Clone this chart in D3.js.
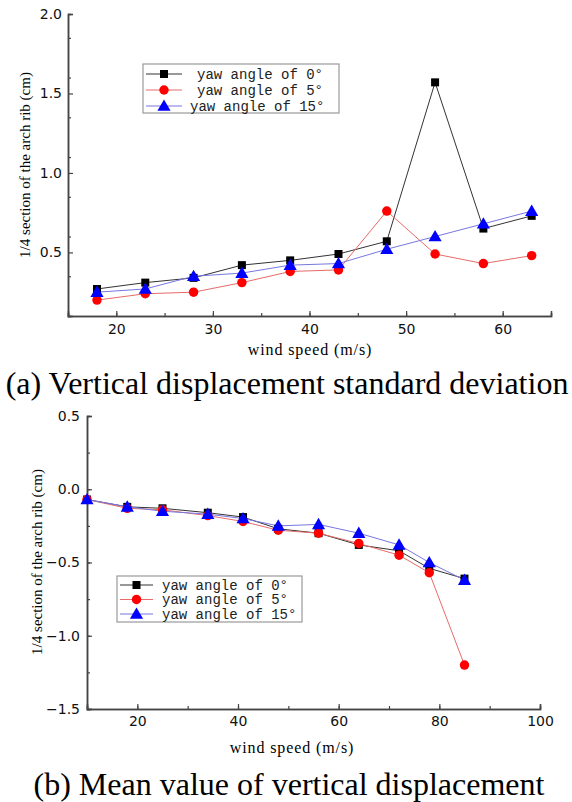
<!DOCTYPE html>
<html><head><meta charset="utf-8">
<script src="https://cdn.jsdelivr.net/npm/d3@7"></script>
<style>body{margin:0;background:#fff}</style>
</head><body>
<svg id="c" width="572" height="802"></svg>
<script>
// ---- Data: chart (a) ----
const speedA = [18,23,28,33,38,43,48,53,58,63];
const a_yaw0  = [0.27,0.31,0.34,0.42,0.45,0.49,0.57,1.57,0.65,0.73];
const a_yaw5  = [0.20,0.24,0.25,0.31,0.38,0.39,0.76,0.49,0.43,0.48];
const a_yaw15 = [0.25,0.27,0.35,0.37,0.42,0.43,0.52,0.60,0.68,0.76];
const a_xTicks = [20,30,40,50,60];
const a_yTicks = [0.5,1.0,1.5,2.0];
// ---- Data: chart (b) ----
const speedB = [10,18,25,34,41,48,56,64,72,78,85];
const b_yaw0  = [-0.07,-0.12,-0.13,-0.16,-0.19,-0.27,-0.30,-0.38,-0.42,-0.54,-0.61];
const b_yaw5  = [-0.07,-0.13,-0.14,-0.18,-0.22,-0.28,-0.30,-0.37,-0.45,-0.57,-1.20];
const b_yaw15 = [-0.07,-0.12,-0.15,-0.17,-0.20,-0.25,-0.24,-0.30,-0.38,-0.50,-0.62];
const b_xTicks = [20,40,60,80,100];
const b_yTicks = [-1.5,-1.0,-0.5,0.0,0.5];
const seriesNames = ["yaw angle of 0°","yaw angle of 5°","yaw angle of 15°"];

const svg = d3.select("#c");
const styles = [
  {line:"#333333", fill:"#000000", shape:d3.symbolSquare, size:64},
  {line:"#e86a6a", fill:"#ff0000", shape:d3.symbolCircle, size:70},
  {line:"#7777e0", fill:"#0000ff", shape:d3.symbolTriangle, size:75}
];

function drawChart(opt){
  const g = svg.append("g");
  const x = d3.scaleLinear().domain(opt.xDomain).range([opt.left, opt.right]);
  const y = d3.scaleLinear().domain(opt.yDomain).range([opt.bottom, opt.top]);
  const xMinor = d3.range(opt.xDomain[0], opt.xDomain[1]+0.001, opt.xMinorStep);
  const yMinor = d3.range(opt.yDomain[0], opt.yDomain[1]+0.001, opt.yMinorStep);
  const xAx = g.append("g").attr("transform",`translate(0,${opt.bottom})`)
    .call(d3.axisBottom(x).tickValues(xMinor).tickSize(-3).tickFormat(""));
  const yAx = g.append("g").attr("transform",`translate(${opt.left},0)`)
    .call(d3.axisLeft(y).tickValues(yMinor).tickSize(-3).tickFormat(""));
  const xMaj = g.append("g").attr("transform",`translate(0,${opt.bottom})`)
    .call(d3.axisBottom(x).tickValues(opt.xTicks).tickSize(-5).tickPadding(opt.xPad).tickFormat(d3.format("d")));
  const yMaj = g.append("g").attr("transform",`translate(${opt.left},0)`)
    .call(d3.axisLeft(y).tickValues(opt.yTicks).tickSize(-5).tickPadding(opt.yPad).tickFormat(d3.format(".1f")));
  [xAx,yAx,xMaj,yMaj].forEach(a=>{
    a.selectAll("path").attr("stroke","#444").attr("stroke-width",1.5);
    a.selectAll("line").attr("stroke","#444").attr("stroke-width",1.2);
    a.selectAll("text").attr("font-family","DejaVu Sans, Arial, sans-serif").attr("font-size",14).attr("fill","#111");
  });
  xMaj.selectAll("text").attr("dy","0.71em");
  const line = d3.line().x(d=>x(d[0])).y(d=>y(d[1]));
  opt.series.forEach((vals,i)=>{
    const pts = opt.xs.map((s,j)=>[s,vals[j]]);
    g.append("path").datum(pts).attr("d",line).attr("fill","none")
      .attr("stroke",styles[i].line).attr("stroke-width",1);
  });
  opt.series.forEach((vals,i)=>{
    const pts = opt.xs.map((s,j)=>[s,vals[j]]);
    g.selectAll(null).data(pts).enter().append("path")
      .attr("d",d3.symbol().type(styles[i].shape).size(styles[i].size))
      .attr("transform",d=>`translate(${x(d[0])},${y(d[1]) + (i===2?1:0)})`)
      .attr("fill",styles[i].fill);
  });
  g.append("text").attr("x",opt.xLabelX).attr("y",opt.xLabelY).attr("text-anchor","middle")
    .attr("font-family","Liberation Serif, Times New Roman, serif").attr("font-size",16)
    .attr("letter-spacing",0.9).text("wind speed (m/s)");
  g.append("text").attr("transform",`translate(${opt.yLabelX},${opt.yLabelY}) rotate(-90)`).attr("text-anchor","middle")
    .attr("font-family","Liberation Serif, Times New Roman, serif").attr("font-size",15).text("1/4 section of the arch rib (cm)");
  const L = opt.legend;
  g.append("rect").attr("x",L.x).attr("y",L.y).attr("width",L.w).attr("height",L.h)
    .attr("fill","#fff").attr("stroke","#999").attr("stroke-width",1.2);
  seriesNames.forEach((n,i)=>{
    const ry = L.y + L.row0 + i*L.rowH;
    g.append("line").attr("x1",L.x+3).attr("x2",L.x+3+L.lineW).attr("y1",ry).attr("y2",ry)
      .attr("stroke",styles[i].line).attr("stroke-width",1);
    g.append("path").attr("d",d3.symbol().type(styles[i].shape).size(styles[i].size))
      .attr("transform",`translate(${L.x+3+L.lineW/2},${ry+(i===2?1:0)})`).attr("fill",styles[i].fill);
    g.append("text").attr("x",L.textX[i]).attr("y",ry+4.5)
      .attr("font-family","Liberation Mono, DejaVu Sans Mono, monospace").attr("font-size",14)
      .attr("fill","#222").text(n);
  });
  svg.append("text").attr("x",opt.capX).attr("y",opt.capY).attr("text-anchor","middle")
    .attr("font-family","Liberation Serif, Times New Roman, serif").attr("font-size",opt.capSize)
    .attr("fill","#000").text(opt.caption);
}

drawChart({
  xDomain:[15,65], yDomain:[0.1,2.0], left:68, right:551, top:14, bottom:316,
  xMinorStep:5, yMinorStep:0.25, xTicks:a_xTicks, yTicks:a_yTicks, xPad:8, yPad:6,
  xs:speedA, series:[a_yaw0,a_yaw5,a_yaw15],
  xLabelX:310, xLabelY:355, yLabelX:30, yLabelY:165,
  legend:{x:143,y:64,w:196,h:49,row0:10,rowH:16,lineW:36,textX:[197,197,190]},
  caption:"(a) Vertical displacement standard deviation", capX:287, capY:394, capSize:32
});
drawChart({
  xDomain:[10,100], yDomain:[-1.5,0.5], left:87, right:540, top:416, bottom:709,
  xMinorStep:10, yMinorStep:0.25, xTicks:b_xTicks, yTicks:b_yTicks, xPad:7, yPad:7,
  xs:speedB, series:[b_yaw0,b_yaw5,b_yaw15],
  xLabelX:292, xLabelY:753, yLabelX:42, yLabelY:562,
  legend:{x:117,y:576,w:185,h:46,row0:9,rowH:14.5,lineW:33,textX:[162,162,162]},
  caption:"(b) Mean value of vertical displacement", capX:289, capY:795, capSize:32
});
</script>
</body></html>
